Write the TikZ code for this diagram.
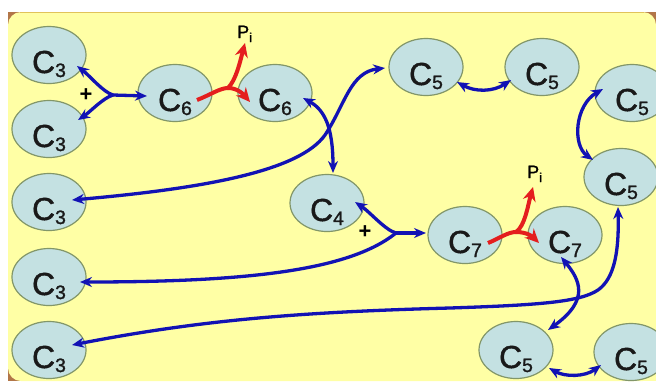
\documentclass[tikz,border=0pt]{standalone}
\usepackage{fontspec}
\setmainfont{Liberation Sans}
\newfontfamily\heavyfont[FakeBold=1.3]{Liberation Sans}
\usetikzlibrary{arrows.meta,calc,shapes.geometric}
\definecolor{bgyellow}{RGB}{255,255,165}
\definecolor{cellfill}{RGB}{196,225,226}
\definecolor{celledge}{RGB}{130,150,105}
\definecolor{flowblue}{RGB}{18,18,180}
\definecolor{flowred}{RGB}{228,30,30}
\definecolor{cornerbrown}{RGB}{178,118,72}
\definecolor{goldline}{RGB}{225,195,90}
\newcommand{\clab}[1]{\heavyfont\fontsize{32}{32}\selectfont C\raisebox{-4bp}{\fontsize{19.5}{19.5}\selectfont #1}}
\newcommand{\plab}{\heavyfont\fontsize{18}{18}\selectfont P\raisebox{-4bp}{\fontsize{13}{13}\selectfont i}}
\begin{document}
\begin{tikzpicture}[x=1bp,y=-1bp,
  cell/.style={ellipse, draw=celledge, line width=1.2bp, fill=cellfill,
    minimum width=74bp, minimum height=57bp, inner sep=0pt,
    text height=36bp, text depth=0pt, text=black!90},
  bone/.style={draw=flowblue, line width=3.3bp, -{Stealth[length=12bp,width=10bp]}},
  btwo/.style={draw=flowblue, line width=3.3bp, {Stealth[length=12bp,width=10bp]}-{Stealth[length=12bp,width=10bp]}},
  rline/.style={draw=flowred, line width=4bp},
  rone/.style={draw=flowred, line width=4bp, -{Stealth[length=14bp,width=13bp]}},
  pilbl/.style={inner sep=0pt, anchor=base west},
  pluslbl/.style={inner sep=0pt, font=\fontsize{22}{22}\selectfont\bfseries}
]
\useasboundingbox (0,0) rectangle (656,381);
% panel
\fill[cornerbrown] (8,12) rectangle (656,381);
\fill[bgyellow, rounded corners=13bp] (8,12) rectangle (656,381);
\fill[bgyellow] (620,345) rectangle (656,381);
\draw[goldline, line width=1bp] (20,12.5) -- (644,12.5);

% cells
\node[cell] (c3a) at (49,55) {\clab{3}};
\node[cell] (c3b) at (49,129) {\clab{3}};
\node[cell] (c3c) at (49,202) {\clab{3}};
\node[cell] (c3d) at (49,277) {\clab{3}};
\node[cell] (c3e) at (49,350) {\clab{3}};
\node[cell] (c6a) at (175,93) {\clab{6}};
\node[cell] (c6b) at (275,93) {\clab{6}};
\node[cell] (c4) at (327,203) {\clab{4}};
\node[cell] (c5a) at (426,67) {\clab{5}};
\node[cell] (c5b) at (542,67) {\clab{5}};
\node[cell] (c5c) at (632,93) {\clab{5}};
\node[cell] (c5d) at (621,177) {\clab{5}};
\node[cell] (c7a) at (465,235) {\clab{7}};
\node[cell] (c7b) at (565,235) {\clab{7}};
\node[cell] (c5e) at (516,350) {\clab{5}};
\node[cell] (c5f) at (631,352) {\clab{5}};

% labels
\node[pilbl] (pi1) at (237,38) {\plab};
\node[pilbl] (pi2) at (527,178) {\plab};
\node[pluslbl] (plus1) at (86,95) {+};
\node[pluslbl] (plus2) at (365,232) {+};

% junctions
\coordinate (j1) at (113,95);
\coordinate (j2) at (396,233);
\coordinate (r1) at (228,88);
\coordinate (r2) at (516,232);

% C3 + C3 -> C6
\draw[bone] (j1) .. controls (103,92) and (90,76) .. ($(c3a)+(28,11)$);
\draw[bone] (j1) .. controls (103,98) and (90,112) .. ($(c3b)+(29,-9)$);
\draw[bone] (j1) -- ($(c6a)+(-28,3)$);

% C6 -> C6 + Pi
\draw[rline] ($(c6a)+(22,7)$) .. controls (210,95) and (220,88) .. (r1);
\draw[rone] (r1) .. controls (236,80) and (240,62) .. ($(pi1.base west)+(8,5)$);
\draw[rone] (r1) .. controls (238,88) and (244,95) .. ($(c6b)+(-25,9)$);

% C6 <-> C4
\draw[btwo] ($(c6b)+(28,5)$) .. controls (325,110) and (333,128) .. ($(c4)+(6,-30)$);

% C3 <-> C5
\draw[btwo] ($(c3c)+(23,-2)$) .. controls (210,188) and (300,170) .. (325,135)
  .. controls (345,105) and (350,72) .. ($(c5a)+(-41,1)$);

% C5 <-> C5 (top)
\draw[btwo] ($(c5a)+(31,15)$) .. controls (475,92) and (493,92) .. ($(c5b)+(-31,13)$);

% C5 <-> C5 (right)
\draw[btwo] ($(c5c)+(-29,-4)$) .. controls (575,105) and (572,145) .. ($(c5d)+(-28,-17)$);

% C4 + C3 -> C7
\draw[bone] (j2) .. controls (385,230) and (370,212) .. ($(c4)+(28,-1)$);
\draw[bone] (j2) -- ($(c7a)+(-39,-2)$);
\draw[bone] (j2) .. controls (350,270) and (250,282) .. ($(c3d)+(31,5)$);

% C7 -> C7 + Pi
\draw[rline] ($(c7a)+(23,8)$) .. controls (500,238) and (508,232) .. (r2);
\draw[rone] (r2) .. controls (525,226) and (528,205) .. ($(pi2.base west)+(6,9)$);
\draw[rone] (r2) .. controls (526,232) and (532,236) .. ($(c7b)+(-26,8)$);

% C7 <-> C5
\draw[btwo] ($(c7b)+(-4,22)$) .. controls (580,280) and (590,300) .. ($(c5e)+(32,-20)$);

% C3 <-> C5 (long)
\draw[btwo] ($(c3e)+(23,-5)$) .. controls (200,320) and (300,312) .. (450,308)
  .. controls (540,305) and (580,302) .. (598,290)
  .. controls (615,278) and (619,250) .. ($(c5d)+(-3,30)$);

% C5 <-> C5 (bottom)
\draw[btwo] ($(c5e)+(33,18)$) .. controls (565,377) and (585,377) .. ($(c5f)+(-30,13)$);
\end{tikzpicture}
\end{document}
